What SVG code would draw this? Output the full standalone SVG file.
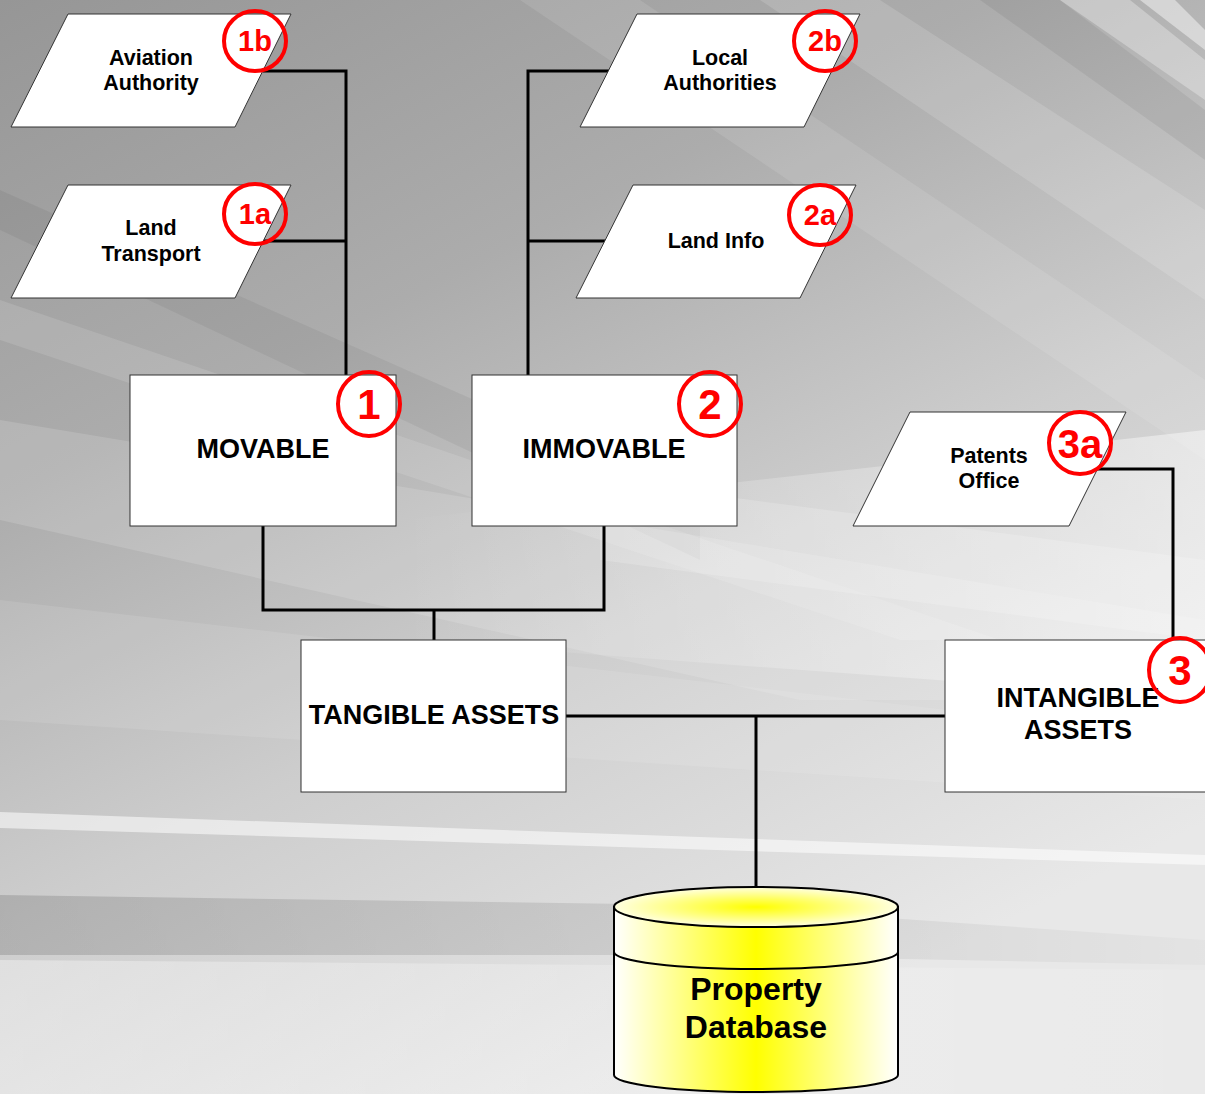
<svg xmlns="http://www.w3.org/2000/svg" width="1205" height="1094" viewBox="0 0 1205 1094">
<defs>
<linearGradient id="bg" x1="0" y1="0" x2="0.55" y2="1">
<stop offset="0" stop-color="#969696"/>
<stop offset="0.35" stop-color="#acacac"/>
<stop offset="0.65" stop-color="#cdcdcd"/>
<stop offset="1" stop-color="#e8e8e8"/>
</linearGradient>
<linearGradient id="fadeR" x1="0" y1="0" x2="1" y2="0">
<stop offset="0" stop-color="#ffffff" stop-opacity="0"/>
<stop offset="1" stop-color="#ffffff" stop-opacity="0.45"/>
</linearGradient>
<linearGradient id="fadeL" x1="0" y1="0" x2="1" y2="0">
<stop offset="0" stop-color="#ffffff" stop-opacity="0.35"/>
<stop offset="1" stop-color="#ffffff" stop-opacity="0.1"/>
</linearGradient>
<linearGradient id="darkL" x1="0" y1="0" x2="1" y2="0">
<stop offset="0" stop-color="#000000" stop-opacity="0.14"/>
<stop offset="0.6" stop-color="#000000" stop-opacity="0.08"/>
<stop offset="1" stop-color="#000000" stop-opacity="0.02"/>
</linearGradient>
<linearGradient id="cyl" x1="0" y1="0" x2="1" y2="0">
<stop offset="0" stop-color="#ffffff"/>
<stop offset="0.5" stop-color="#ffff00"/>
<stop offset="1" stop-color="#ffffff"/>
</linearGradient>
<radialGradient id="cyltop" cx="0.5" cy="0.5" r="0.5">
<stop offset="0" stop-color="#ffff00"/>
<stop offset="1" stop-color="#ffffe0"/>
</radialGradient>
<style>
.box{fill:#ffffff;stroke:#333333;stroke-width:1}
.t{font-family:"Liberation Sans",Arial,sans-serif;font-weight:bold;fill:#000;text-anchor:middle}
.ts{font-size:21.5px}
.tb{font-size:27px}
.badge{fill:none;stroke:#ff0000;stroke-width:4}
.bl{font-family:"Liberation Sans",Arial,sans-serif;font-weight:bold;fill:#ff0000;text-anchor:middle}
.conn{fill:none;stroke:#000;stroke-width:3}
.cyl{stroke:#000;stroke-width:2}
.w{fill:#ffffff}
.k{fill:#000000}
</style>
</defs>
<g id="background">
<rect width="1205" height="1094" fill="url(#bg)"/>
<polygon class="w" opacity="0.10" points="520,0 640,0 1205,380 1205,460"/>
<polygon class="w" opacity="0.14" points="760,0 880,0 1205,210 1205,300"/>
<polygon class="k" opacity="0.06" points="980,0 1060,0 1205,110 1205,160"/>
<polygon class="w" opacity="0.30" points="1060,0 1130,0 1205,60 1205,100"/>
<polygon class="w" opacity="0.45" points="1140,0 1175,0 1205,30 1205,50"/>
<polygon class="k" opacity="0.05" points="0,190 0,230 700,560 700,500"/>
<polygon class="w" opacity="0.12" points="0,300 0,340 900,640 1000,640"/>
<polygon class="w" opacity="0.14" points="0,420 0,520 800,700 1205,700 1205,620"/>
<polygon class="w" opacity="0.18" points="600,480 1205,560 1205,640 600,560"/>
<polygon fill="url(#fadeR)" points="400,520 1205,430 1205,700 400,640"/>
<polygon class="w" opacity="0.10" points="0,600 0,720 1205,800 1205,740"/>
<polygon class="w" opacity="0.55" points="0,812 1205,855 1205,865 0,828"/>
<polygon fill="url(#darkL)" points="0,895 700,905 1205,940 1205,965 700,955 0,955"/>
<polygon fill="url(#fadeL)" points="0,960 1205,970 1205,1094 0,1094"/>
</g>
<g id="connectors">
<polyline class="conn" points="263,71 346,71 346,375"/>
<polyline class="conn" points="263,241 346,241"/>
<polyline class="conn" points="609,71 528,71 528,375"/>
<polyline class="conn" points="605,241 528,241"/>
<polyline class="conn" points="263,526 263,610 604,610 604,526"/>
<polyline class="conn" points="434,610 434,640"/>
<polyline class="conn" points="566,716 945,716"/>
<polyline class="conn" points="756,716 756,887"/>
<polyline class="conn" points="1097,469 1173,469 1173,640"/>
</g>
<g id="aviation">
<polygon class="box" points="68,14 291,14 235,127 11,127"/>
<text class="t ts" x="151" y="65">Aviation</text>
<text class="t ts" x="151" y="90">Authority</text>
<ellipse class="badge" cx="255" cy="41" rx="31" ry="30"/>
<text class="bl" x="255" y="51" font-size="29">1b</text>
</g>
<g id="land-transport">
<polygon class="box" points="68,185 291,185 235,298 11,298"/>
<text class="t ts" x="151" y="235">Land</text>
<text class="t ts" x="151" y="261">Transport</text>
<ellipse class="badge" cx="255" cy="214" rx="31" ry="30"/>
<text class="bl" x="255" y="224" font-size="29">1a</text>
</g>
<g id="local-authorities">
<polygon class="box" points="637,14 860,14 804,127 580,127"/>
<text class="t ts" x="720" y="65">Local</text>
<text class="t ts" x="720" y="90">Authorities</text>
<ellipse class="badge" cx="825" cy="41" rx="31" ry="30"/>
<text class="bl" x="825" y="51" font-size="29">2b</text>
</g>
<g id="land-info">
<polygon class="box" points="633,185 856,185 800,298 576,298"/>
<text class="t ts" x="716" y="248">Land Info</text>
<ellipse class="badge" cx="820" cy="215" rx="31" ry="30"/>
<text class="bl" x="820" y="225" font-size="29">2a</text>
</g>
<g id="patents">
<polygon class="box" points="910,412 1126,412 1069,526 853,526"/>
<text class="t ts" x="989" y="463">Patents</text>
<text class="t ts" x="989" y="488">Office</text>
<ellipse class="badge" cx="1080" cy="443" rx="31" ry="31"/>
<text class="bl" x="1080" y="458" font-size="40">3a</text>
</g>
<g id="movable">
<rect class="box" x="130" y="375" width="266" height="151"/>
<text class="t tb" x="263" y="458">MOVABLE</text>
<ellipse class="badge" cx="369" cy="404" rx="31" ry="32"/>
<text class="bl" x="369" y="419" font-size="42">1</text>
</g>
<g id="immovable">
<rect class="box" x="472" y="375" width="265" height="151"/>
<text class="t tb" x="604" y="458">IMMOVABLE</text>
<ellipse class="badge" cx="710" cy="404" rx="31" ry="32"/>
<text class="bl" x="710" y="419" font-size="42">2</text>
</g>
<g id="tangible">
<rect class="box" x="301" y="640" width="265" height="152"/>
<text class="t tb" x="434" y="724">TANGIBLE ASSETS</text>
</g>
<g id="intangible">
<rect class="box" x="945" y="640" width="265" height="152"/>
<text class="t tb" x="1078" y="707">INTANGIBLE</text>
<text class="t tb" x="1078" y="739">ASSETS</text>
<ellipse class="badge" cx="1180" cy="670" rx="31" ry="32"/>
<text class="bl" x="1180" y="685" font-size="42">3</text>
</g>
<g id="database">
<path class="cyl" fill="url(#cyl)" d="M614,907 L614,1075 A142,17 0 0 0 898,1075 L898,907 Z"/>
<path class="cyl" fill="none" d="M614,952 A142,17 0 0 0 898,952"/>
<ellipse class="cyl" fill="url(#cyltop)" cx="756" cy="907" rx="142" ry="20"/>
<text class="t" x="756" y="1000" font-size="32">Property</text>
<text class="t" x="756" y="1038" font-size="32">Database</text>
</g>
</svg>
